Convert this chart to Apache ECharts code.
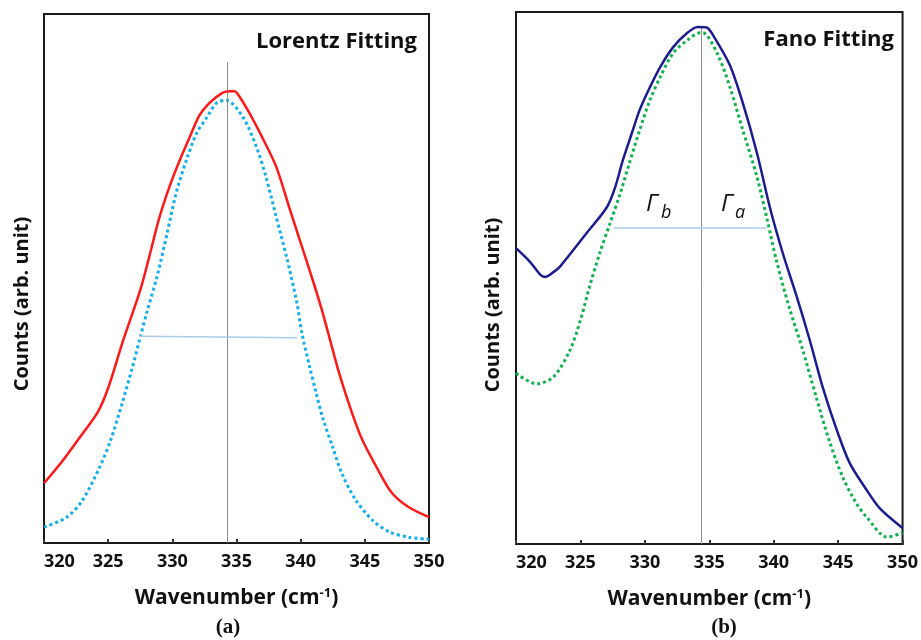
<!DOCTYPE html>
<html>
<head>
<meta charset="utf-8">
<script src="https://cdn.jsdelivr.net/npm/echarts@6/dist/echarts.min.js"></script>
<style>
  html, body { margin: 0; padding: 0; background: #fff; }
  #app { width: 921px; height: 640px; }
</style>
</head>
<body>
<div id="app"></div>
<script>
// (a) Lorentz fitting: measured spectrum and fitted curve
const lorentzMeasuredX = [320.0, 321.5, 322.8, 324.2, 325.0, 326.1, 327.5, 328.2, 329.0, 329.8, 330.6, 331.35, 332.1, 332.9, 333.9, 334.5, 334.85, 335.2, 336.0, 337.0, 338.1, 339.1, 339.9, 340.9, 341.6, 342.0, 343.0, 344.0, 344.8, 345.9, 347.1, 348.4, 350.0];
const lorentzMeasuredY = [11.3, 15.7, 20.0, 24.8, 29.3, 37.8, 47.8, 54.1, 61.6, 67.5, 72.5, 76.7, 80.8, 83.2, 85.1, 85.4, 85.4, 84.5, 81.3, 76.7, 71.1, 63.5, 57.5, 50.0, 44.5, 41.0, 32.1, 24.6, 19.5, 14.4, 9.5, 6.8, 4.9];
const lorentzFitX = [320.0, 321.8, 323.0, 324.35, 325.2, 326.1, 326.9, 327.5, 328.0, 328.8, 329.6, 330.3, 331.1, 331.9, 332.7, 333.45, 334.2, 335.5, 336.55, 337.3, 338.1, 338.9, 339.7, 340.1, 340.7, 341.2, 341.7, 342.5, 343.2, 344.3, 345.6, 346.9, 348.4, 350.0];
const lorentzFitY = [3.0, 4.9, 8.1, 14.4, 19.5, 26.5, 33.3, 38.9, 43.5, 50.3, 58.6, 66.2, 72.4, 77.5, 80.5, 83.2, 83.7, 80.5, 74.9, 69.2, 61.6, 54.1, 45.5, 39.6, 33.3, 28.4, 23.8, 18.1, 13.2, 8.1, 4.3, 2.1, 1.1, 0.7];
const lorentzPeak = [334.3, 90.9];
const lorentzHalf = [[327.4, 39.1], [339.7, 38.8]];

// (b) Fano fitting: measured spectrum and fitted curve
const fanoMeasuredX = [320.0, 321.1, 321.9, 322.25, 322.9, 323.4, 325.5, 327.05, 327.7, 328.3, 329.0, 329.6, 330.4, 331.2, 332.2, 333.3, 334.1, 334.8, 335.3, 336.6, 337.6, 338.7, 339.7, 340.7, 341.8, 342.8, 343.8, 344.9, 345.9, 347.2, 348.2, 350.0];
const fanoMeasuredY = [55.6, 53.0, 50.6, 50.2, 51.1, 52.1, 58.5, 63.3, 67.1, 72.2, 77.3, 81.6, 85.9, 89.7, 93.4, 96.1, 97.2, 97.1, 95.6, 90.0, 82.9, 73.5, 63.3, 54.7, 46.4, 38.3, 29.5, 21.4, 15.2, 10.2, 6.8, 3.0];
const fanoFitX = [320.0, 321.6, 322.9, 324.2, 325.0, 325.7, 326.5, 327.3, 328.1, 328.8, 329.6, 330.4, 331.2, 332.2, 333.3, 334.3, 334.5, 335.6, 336.6, 337.6, 338.7, 339.5, 340.2, 341.2, 342.25, 343.3, 344.3, 345.35, 346.4, 347.2, 348.8, 350.0];
const fanoFitY = [32.1, 30.1, 31.4, 36.5, 42.1, 48.3, 54.7, 60.3, 66.0, 71.6, 77.8, 83.5, 87.8, 92.3, 94.7, 96.1, 96.1, 92.3, 85.9, 77.8, 69.0, 60.9, 53.4, 44.5, 36.5, 27.6, 19.5, 12.6, 7.7, 5.1, 1.3, 2.1];
const fanoPeak = [334.4, 97.0];
const fanoHalf = [[327.6, 59.4], [339.4, 59.4]];

const xTicks = [320, 325, 330, 335, 340, 345, 350];

const zip = (xs, ys) => xs.map((x, i) => [x, ys[i]]);

const FONT = "'Open Sans', 'Noto Sans', sans-serif";

function xAxisFor(gridIndex) {
  return {
    type: "value",
    gridIndex,
    min: xTicks[0],
    max: xTicks[xTicks.length - 1],
    interval: 5,
    name: "Wavenumber (cm{sup|-1})",
    nameLocation: "middle",
    nameGap: 44,
    nameTextStyle: {
      fontFamily: FONT,
      fontWeight: "bold",
      fontSize: 21,
      color: "#111",
      rich: {
        sup: { fontFamily: FONT, fontWeight: "bold", fontSize: 13, color: "#111", verticalAlign: "top", padding: [0, 0, 10, 0] }
      }
    },
    axisLine: { show: true, lineStyle: { color: "#1a1a1a", width: 2 } },
    axisTick: { show: true, inside: true, length: 4, lineStyle: { color: "#333", width: 2 } },
    axisLabel: {
      fontFamily: FONT,
      fontWeight: "bold",
      fontSize: 18,
      color: "#111",
      margin: 10,
      alignMinLabel: "left"
    },
    splitLine: { show: false }
  };
}

function yAxisFor(gridIndex) {
  return {
    type: "value",
    gridIndex,
    min: 0,
    max: 100,
    axisLine: { show: true, lineStyle: { color: "#1a1a1a", width: 2 } },
    axisTick: { show: false },
    axisLabel: { show: false },
    splitLine: { show: false }
  };
}

function lineSeries(idx, data, color, width, type, smooth) {
  return {
    type: "line",
    xAxisIndex: idx,
    yAxisIndex: idx,
    data,
    showSymbol: false,
    smooth: smooth ? 0.3 : false,
    lineStyle: { color, width, type: type || "solid", cap: "butt" },
    silent: true,
    z: type ? 3 : 4
  };
}

const option = {
  animation: false,
  backgroundColor: "#fff",
  grid: [
    { left: 44, top: 14, width: 385, height: 529, show: true, borderColor: "#1a1a1a", borderWidth: 2 },
    { left: 516, top: 12, width: 387, height: 532, show: true, borderColor: "#1a1a1a", borderWidth: 2 }
  ],
  xAxis: [xAxisFor(0), xAxisFor(1)],
  yAxis: [yAxisFor(0), yAxisFor(1)],
  series: [
    lineSeries(0, [[lorentzPeak[0], 0], lorentzPeak], "#8c8c8c", 1),
    lineSeries(0, lorentzHalf, "#a9cbea", 1.5),
    lineSeries(0, zip(lorentzFitX, lorentzFitY), "#12aee8", 3, [3, 3], true),
    lineSeries(0, zip(lorentzMeasuredX, lorentzMeasuredY), "#ff1a1a", 2.5, null, true),
    lineSeries(1, [[fanoPeak[0], 0], fanoPeak], "#8c8c8c", 1),
    lineSeries(1, fanoHalf, "#a9cbea", 1.5),
    lineSeries(1, zip(fanoFitX, fanoFitY), "#12b050", 3, [3, 3], true),
    lineSeries(1, zip(fanoMeasuredX, fanoMeasuredY), "#1c1c8f", 2.5, null, true)
  ],
  graphic: [
    { type: "text", x: 417, y: 42, style: { text: "Lorentz Fitting", font: "bold 22px " + FONT, fill: "#111", align: "right", verticalAlign: "middle" } },
    { type: "text", x: 894, y: 40, style: { text: "Fano Fitting", font: "bold 22px " + FONT, fill: "#111", align: "right", verticalAlign: "middle" } },
    { type: "text", x: 22, y: 304, rotation: Math.PI / 2, style: { text: "Counts (arb. unit)", font: "bold 20px " + FONT, fill: "#111", align: "center", verticalAlign: "middle" } },
    { type: "text", x: 493, y: 305, rotation: Math.PI / 2, style: { text: "Counts (arb. unit)", font: "bold 20px " + FONT, fill: "#111", align: "center", verticalAlign: "middle" } },
    { type: "text", x: 228, y: 628, style: { text: "(a)", font: "bold 21px 'Liberation Serif', serif", fill: "#111", align: "center", verticalAlign: "middle" } },
    { type: "text", x: 724, y: 628, style: { text: "(b)", font: "bold 21px 'Liberation Serif', serif", fill: "#111", align: "center", verticalAlign: "middle" } },
    { type: "text", x: 646, y: 204, style: { text: "Γ", font: "italic 24px " + FONT, fill: "#111", align: "left", verticalAlign: "middle" } },
    { type: "text", x: 661, y: 213, style: { text: "b", font: "italic 18px " + FONT, fill: "#111", align: "left", verticalAlign: "middle" } },
    { type: "text", x: 721, y: 204, style: { text: "Γ", font: "italic 24px " + FONT, fill: "#111", align: "left", verticalAlign: "middle" } },
    { type: "text", x: 735, y: 213, style: { text: "a", font: "italic 18px " + FONT, fill: "#111", align: "left", verticalAlign: "middle" } }
  ]
};

const chart = echarts.init(document.getElementById("app"));
chart.setOption(option);
window.onresize = function() {
  chart.resize();
};
</script>
</body>
</html>
